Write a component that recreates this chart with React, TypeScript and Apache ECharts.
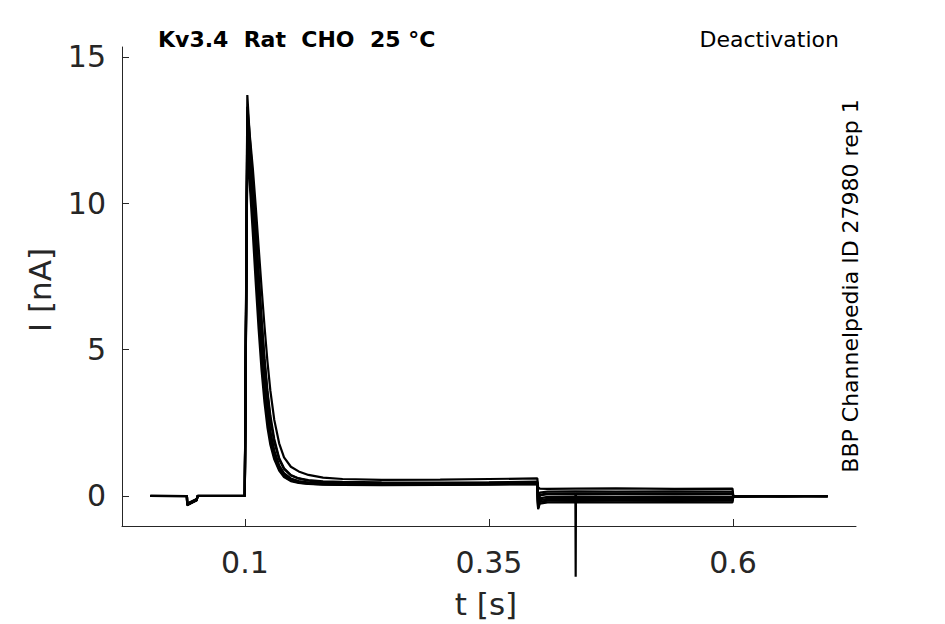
import React, { useEffect, useRef } from "react";
import * as echarts from "echarts";

const T = [
  0.003, 0.0405, 0.0408, 0.0505, 0.0515, 0.0998, 0.1024, 0.105, 0.108, 0.111,
  0.114, 0.117, 0.12, 0.123, 0.126, 0.13, 0.135, 0.14, 0.147, 0.155,
  0.165, 0.18, 0.2, 0.24, 0.3, 0.35, 0.3995, 0.4003, 0.402, 0.41,
  0.4385, 0.4388, 0.4391, 0.48, 0.54, 0.5995, 0.6003, 0.65, 0.697,
];

const traceA = [0, 0, -0.32, -0.14, 0, 0, 13.7, 12.2, 10.8, 9.2, 7.6, 6.0, 4.6, 3.5, 2.6, 1.85, 1.25, 0.92, 0.7, 0.6, 0.54, 0.5, 0.48, 0.47, 0.46, 0.47, 0.49, -0.3, 0.05, 0.08, 0.08, -2.76, 0.08, 0.09, 0.08, 0.09, 0.0, -0.01, 0.0];
const traceB = [0.01, 0.0, -0.28, -0.12, 0.01, 0.01, 13.3, 12.3, 11.2, 9.9, 8.5, 7.1, 5.8, 4.6, 3.6, 2.6, 1.8, 1.32, 1.0, 0.84, 0.72, 0.63, 0.58, 0.55, 0.56, 0.58, 0.6, 0.3, 0.25, 0.24, 0.25, 0.25, 0.25, 0.26, 0.24, 0.25, -0.02, 0.0, -0.01];
const traceC = [0, -0.01, -0.3, -0.15, 0, 0, 13.0, 11.8, 10.5, 9.0, 7.5, 6.0, 4.7, 3.6, 2.75, 1.95, 1.3, 0.95, 0.72, 0.6, 0.52, 0.47, 0.45, 0.43, 0.44, 0.45, 0.46, -0.25, 0.12, 0.15, 0.16, 0.16, 0.16, 0.15, 0.16, 0.15, 0.0, -0.02, 0.0];
const traceD = [0, 0, -0.26, -0.1, 0, 0, 12.7, 11.4, 9.9, 8.3, 6.7, 5.2, 3.9, 2.9, 2.15, 1.5, 1.0, 0.74, 0.57, 0.49, 0.45, 0.42, 0.41, 0.4, 0.41, 0.42, 0.44, -0.35, 0.02, 0.06, 0.07, 0.07, 0.07, 0.06, 0.07, 0.06, -0.01, 0.0, -0.01];
const traceE = [0, 0, -0.3, -0.13, 0, 0, 12.4, 11.3, 9.9, 8.4, 6.8, 5.3, 4.0, 3.0, 2.2, 1.55, 1.05, 0.78, 0.6, 0.51, 0.46, 0.43, 0.42, 0.41, 0.42, 0.43, 0.45, -0.38, -0.08, -0.03, -0.02, -0.02, -0.02, -0.03, -0.02, -0.03, 0.0, 0.0, 0.0];
const traceF = [0, 0, -0.29, -0.12, 0, 0, 12.2, 11.0, 9.6, 8.0, 6.4, 4.9, 3.7, 2.75, 2.0, 1.4, 0.95, 0.7, 0.54, 0.47, 0.43, 0.41, 0.4, 0.39, 0.4, 0.41, 0.42, -0.4, -0.14, -0.1, -0.09, -0.09, -0.09, -0.1, -0.09, -0.1, -0.02, 0.0, -0.01];
const traceG = [0, 0, -0.31, -0.14, 0, 0, 12.0, 10.9, 9.5, 7.9, 6.3, 4.8, 3.6, 2.65, 1.95, 1.35, 0.92, 0.68, 0.53, 0.46, 0.42, 0.4, 0.39, 0.38, 0.39, 0.4, 0.41, -0.42, -0.2, -0.16, -0.15, -0.15, -0.15, -0.16, -0.15, -0.16, -0.01, 0.0, 0.0];
const traceH = [0, 0, -0.27, -0.11, 0, 0, 11.8, 10.6, 9.0, 7.3, 5.7, 4.3, 3.2, 2.35, 1.75, 1.25, 0.87, 0.65, 0.51, 0.45, 0.41, 0.39, 0.38, 0.37, 0.38, 0.39, 0.4, -0.45, -0.26, -0.22, -0.21, -0.21, -0.21, -0.22, -0.21, -0.22, -0.02, 0.0, 0.0];

const traces = [traceA, traceB, traceC, traceD, traceE, traceF, traceG, traceH];

const xTicks = [0.1, 0.35, 0.6];
const yTicks = [0, 5, 10, 15];

const TITLE = "Kv3.4  Rat  CHO  25 °C";
const PROTOCOL = "Deactivation";
const SOURCE = "BBP Channelpedia ID 27980 rep 1";
const X_NAME = "t [s]";
const Y_NAME = "I [nA]";

const FONT = "DejaVu Sans";
const AXIS_COLOR = "#262626";

export default function App() {
  const ref = useRef<HTMLDivElement>(null);

  useEffect(() => {
    document.body.style.margin = "0";
    const chart = echarts.init(ref.current!, null, { renderer: "svg" });
    chart.setOption({
      animation: false,
      backgroundColor: "#ffffff",
      grid: { left: 122, right: 89, top: 47, bottom: 98, containLabel: false },
      xAxis: {
        type: "value",
        min: -0.026,
        max: 0.726,
        splitLine: { show: false },
        axisLine: { show: true, onZero: false, lineStyle: { color: AXIS_COLOR, width: 1 } },
        axisTick: { show: true, inside: true, length: 7, customValues: xTicks, lineStyle: { color: AXIS_COLOR } },
        axisLabel: {
          customValues: xTicks,
          formatter: (v: number) => String(v),
          color: AXIS_COLOR,
          fontFamily: FONT,
          fontSize: 30,
          margin: 21,
        },
      },
      yAxis: {
        type: "value",
        min: -1.025,
        max: 15.34,
        splitLine: { show: false },
        axisLine: { show: true, onZero: false, lineStyle: { color: AXIS_COLOR, width: 1 } },
        axisTick: { show: true, inside: true, length: 7, customValues: yTicks, lineStyle: { color: AXIS_COLOR } },
        axisLabel: {
          customValues: yTicks,
          formatter: (v: number) => String(v),
          color: AXIS_COLOR,
          fontFamily: FONT,
          fontSize: 30,
          margin: 16,
        },
      },
      graphic: [
        { type: "text", x: 158, y: 39, style: { text: TITLE, font: `bold 22px '${FONT}'`, fill: "#000", align: "left", verticalAlign: "middle" } },
        { type: "text", x: 839, y: 39, style: { text: PROTOCOL, font: `22px '${FONT}'`, fill: "#000", align: "right", verticalAlign: "middle" } },
        { type: "text", x: 850, y: 286, rotation: Math.PI / 2, style: { text: SOURCE, font: `22px '${FONT}'`, fill: "#000", align: "center", verticalAlign: "middle" } },
        { type: "text", x: 40, y: 290, rotation: Math.PI / 2, style: { text: Y_NAME, font: `31px '${FONT}'`, fill: AXIS_COLOR, align: "center", verticalAlign: "middle" } },
        { type: "text", x: 486, y: 604, style: { text: X_NAME, font: `31px '${FONT}'`, fill: AXIS_COLOR, align: "center", verticalAlign: "middle" } },
      ],
      series: traces.map((tr, i) => ({
        type: "line",
        name: "trace" + (i + 1),
        data: T.map((t, j) => [t, tr[j]]),
        showSymbol: false,
        symbol: "none",
        clip: false,
        lineStyle: { color: "#000", width: 2.2 },
        silent: true,
      })),
    });
    return () => chart.dispose();
  }, []);

  return <div ref={ref} style={{ width: 945, height: 624 }} />;
}
